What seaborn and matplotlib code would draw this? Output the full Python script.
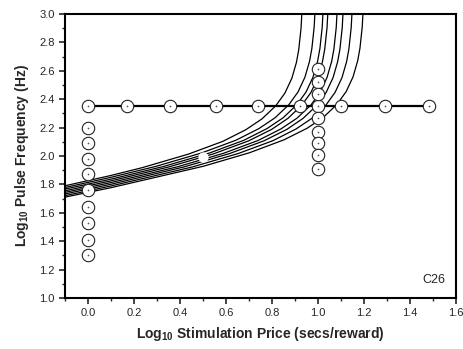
import matplotlib
matplotlib.use('Agg')

import numpy as np
import pandas as pd
import seaborn as sns
from matplotlib import pyplot as plt
from matplotlib.ticker import MultipleLocator

# iso-reward contours (log10 price, log10 pulse frequency)
c1_x = [-0.12, 0.1, 0.236, 0.436, 0.586, 0.686, 0.756, 0.816, 0.856, 0.886, 0.906, 0.916, 0.926, 0.931, 0.934]
c1_y = [1.783, 1.863, 1.918, 2.013, 2.103, 2.185, 2.261, 2.353, 2.443, 2.547, 2.659, 2.748, 2.899, 3.049, 3.248]
c2_x = [-0.12, 0.1, 0.293, 0.493, 0.643, 0.743, 0.813, 0.873, 0.913, 0.943, 0.963, 0.973, 0.983, 0.988, 0.991]
c2_y = [1.771, 1.850, 1.926, 2.021, 2.111, 2.193, 2.269, 2.361, 2.451, 2.555, 2.667, 2.756, 2.907, 3.057, 3.256]
c3_x = [-0.12, 0.1, 0.328, 0.528, 0.678, 0.778, 0.848, 0.908, 0.948, 0.978, 0.998, 1.008, 1.018, 1.023, 1.026]
c3_y = [1.760, 1.837, 1.926, 2.021, 2.111, 2.193, 2.269, 2.361, 2.451, 2.555, 2.667, 2.756, 2.907, 3.057, 3.256]
c4_x = [-0.12, 0.1, 0.349, 0.549, 0.699, 0.799, 0.869, 0.929, 0.969, 0.999, 1.019, 1.029, 1.039, 1.044, 1.047]
c4_y = [1.748, 1.825, 1.922, 2.017, 2.107, 2.188, 2.265, 2.357, 2.447, 2.551, 2.663, 2.752, 2.903, 3.053, 3.252]
c5_x = [-0.12, 0.1, 0.389, 0.589, 0.739, 0.839, 0.909, 0.969, 1.009, 1.039, 1.059, 1.069, 1.079, 1.084, 1.087]
c5_y = [1.737, 1.813, 1.924, 2.019, 2.109, 2.191, 2.267, 2.359, 2.449, 2.553, 2.665, 2.754, 2.905, 3.055, 3.254]
c6_x = [-0.12, 0.1, 0.415, 0.615, 0.765, 0.865, 0.935, 0.995, 1.035, 1.065, 1.085, 1.095, 1.105, 1.110, 1.113]
c6_y = [1.726, 1.801, 1.922, 2.017, 2.107, 2.188, 2.265, 2.357, 2.447, 2.551, 2.663, 2.752, 2.903, 3.053, 3.252]
c7_x = [-0.12, 0.1, 0.454, 0.654, 0.804, 0.904, 0.974, 1.034, 1.074, 1.104, 1.124, 1.134, 1.144, 1.149, 1.152]
c7_y = [1.714, 1.789, 1.923, 2.018, 2.108, 2.190, 2.266, 2.358, 2.448, 2.552, 2.664, 2.753, 2.904, 3.054, 3.253]
c8_x = [-0.12, 0.1, 0.502, 0.702, 0.852, 0.952, 1.022, 1.082, 1.122, 1.152, 1.172, 1.182, 1.192, 1.197, 1.200]
c8_y = [1.704, 1.777, 1.928, 2.023, 2.114, 2.195, 2.271, 2.363, 2.453, 2.557, 2.669, 2.758, 2.909, 3.059, 3.258]

# price sweep at fixed frequency
price_x = [0.0, 0.17, 0.357, 0.557, 0.74, 0.92, 1.0, 1.10, 1.29, 1.48]
price_y = [2.35, 2.35, 2.35, 2.35, 2.35, 2.35, 2.35, 2.35, 2.35, 2.35]

# frequency sweeps at fixed price
freq0_y = [2.20, 2.09, 1.98, 1.87, 1.76, 1.64, 1.53, 1.41, 1.30]
freq1_y = [2.61, 2.52, 2.44, 2.27, 2.17, 2.09, 2.01, 1.91]

mid_x = [0.5]
mid_y = [1.995]

curves = [(c1_x, c1_y), (c2_x, c2_y), (c3_x, c3_y), (c4_x, c4_y),
          (c5_x, c5_y), (c6_x, c6_y), (c7_x, c7_y), (c8_x, c8_y)]
rows = []
for i, (xs, ys) in enumerate(curves):
  for x, y in zip(xs, ys):
    rows.append({'curve': i, 'price': x, 'freq': y})
df_curves = pd.DataFrame(rows)

df_circles = pd.DataFrame({
  'price': price_x + [0.0] * len(freq0_y) + [1.0] * len(freq1_y),
  'freq': price_y + freq0_y + freq1_y,
})

sns.set_style('ticks')
plt.rcParams['font.family'] = ['Liberation Sans', 'DejaVu Sans']
plt.rcParams['mathtext.fontset'] = 'custom'
plt.rcParams['mathtext.rm'] = 'Liberation Sans:bold'
plt.rcParams['mathtext.it'] = 'Liberation Sans:bold'
plt.rcParams['mathtext.bf'] = 'Liberation Sans:bold'

fig = plt.figure(figsize=(4.64, 3.49), dpi=100)
ax = fig.add_axes([0.140, 0.146, 0.843, 0.814])

sns.lineplot(data=df_curves, x='price', y='freq', units='curve', estimator=None,
             sort=False, color='black', lw=0.9, ax=ax, zorder=2)
sns.lineplot(x=price_x, y=price_y, color='black', lw=1.6, ax=ax, zorder=3)
sns.scatterplot(data=df_circles, x='price', y='freq', s=80, color='white',
                edgecolor='#222222', linewidth=0.8, ax=ax, zorder=4)
sns.scatterplot(data=df_circles, x='price', y='freq', s=1.5, color='#555555',
                linewidth=0, ax=ax, zorder=5)
sns.scatterplot(x=mid_x, y=mid_y, s=55, color='white', linewidth=0, ax=ax, zorder=4)

ax.set_xlim(-0.1, 1.6)
ax.set_ylim(1.0, 3.0)
ax.xaxis.set_major_locator(MultipleLocator(0.2))
ax.xaxis.set_minor_locator(MultipleLocator(0.1))
ax.yaxis.set_major_locator(MultipleLocator(0.2))
ax.yaxis.set_minor_locator(MultipleLocator(0.1))
ax.set_xticks(np.arange(0.0, 1.61, 0.2))
ax.set_xticklabels(['%.1f' % v for v in np.arange(0.0, 1.61, 0.2)])
ax.set_yticklabels(['%.1f' % v for v in ax.get_yticks()])
ax.tick_params(which='major', direction='out', length=4, width=1.2, labelsize=8)
ax.tick_params(which='minor', direction='out', length=2, width=1.0)
for s in ax.spines.values():
  s.set_linewidth(1.5)
  s.set_color('black')

ax.set_xlabel(r'Log$_{10}$ Stimulation Price (secs/reward)', fontsize=10, fontweight='bold', labelpad=5)
ax.set_ylabel(r'Log$_{10}$ Pulse Frequency (Hz)', fontsize=10, fontweight='bold', labelpad=6)
ax.text(1.555, 1.125, 'C26', fontsize=9, ha='right', va='center')
ax.set_xlim(-0.1, 1.6)
ax.set_ylim(1.0, 3.0)

plt.savefig('out.png', dpi=100)
